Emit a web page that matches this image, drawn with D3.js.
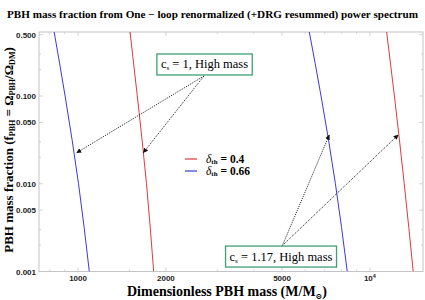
<!DOCTYPE html>
<html>
<head>
<meta charset="utf-8">
<script src="https://cdn.jsdelivr.net/npm/d3@7"></script>
<style>
  body { margin: 0; background: #fff; }
  svg { display: block; }
  .serif { font-family: "Liberation Serif", "DejaVu Serif", serif; font-weight: bold; }
  .tick-label { font-family: "Liberation Sans", Arial, sans-serif; font-weight: bold; font-size: 8px; fill: #222; }
</style>
</head>
<body>
<div id="chart"></div>
<script>
// axis ticks
var massTicks = [1000, 2000, 5000, 10000];
var massMinor = [800, 900, 1500, 3000, 4000, 6000, 7000, 8000, 9000];
var fracTicks = [0.5, 0.1, 0.05, 0.01, 0.005, 0.001];
var fracMinor = [0.3, 0.2, 0.03, 0.02, 0.003, 0.002];

// curves: mass read at each fraction level
var fracLevels = [0.54, 0.1, 0.01, 0.001];
var massBlueLow = [828, 903, 1004, 1093];
var massRedLow = [1507, 1596, 1716, 1816];
var massBlueHigh = [6196, 6800, 7617, 8362];
var massRedHigh = [11408, 12131, 13108, 14070];

var legendLabels = ["0.4", "0.66"];

// annotation anchors [mass, fraction]
var boxLowCenter = [2712, 0.2286];
var boxLowFrom = [2700, 0.169];
var boxLowTargets = [[990, 0.0226], [1674, 0.0226]];
var boxHighCenter = [4958, 0.00148];
var boxHighFrom = [5015, 0.00198];
var boxHighTargets = [[7255, 0.0359], [12500, 0.036]];

var width = 425, height = 300;
var red = "#e0393b", blue = "#3a3ad8", green = "#3f9f73";

var x = d3.scaleLog().domain([735, 15200]).range([39, 423]);
var y = d3.scaleLog().domain([0.001, 0.536]).range([271.5, 32]);

var svg = d3.select("#chart").append("svg")
    .attr("width", width)
    .attr("height", height);

svg.append("defs").append("clipPath")
    .attr("id", "clip")
  .append("rect")
    .attr("x", x.range()[0])
    .attr("y", y.range()[1])
    .attr("width", x.range()[1] - x.range()[0])
    .attr("height", y.range()[0] - y.range()[1]);

svg.select("defs").append("marker")
    .attr("id", "arrow")
    .attr("viewBox", "0 0 10 10")
    .attr("refX", 9)
    .attr("refY", 5)
    .attr("markerWidth", 5)
    .attr("markerHeight", 5)
    .attr("markerUnits", "userSpaceOnUse")
    .attr("orient", "auto")
  .append("path")
    .attr("d", "M0,0L10,5L0,10z")
    .attr("fill", "#111");

// title
svg.append("text")
    .attr("class", "serif")
    .attr("x", 7)
    .attr("y", 18)
    .attr("font-size", 10)
    .attr("textLength", 411)
    .attr("lengthAdjust", "spacingAndGlyphs")
    .text("PBH mass fraction from One \u2212 loop renormalized (+DRG resummed) power spectrum");

// frame with inward ticks on all sides
var frame = svg.append("g").attr("class", "frame");
var x0 = x.range()[0], x1 = x.range()[1], y0 = y.range()[0], y1 = y.range()[1];

frame.append("rect")
    .attr("x", x0).attr("y", y1)
    .attr("width", x1 - x0).attr("height", y0 - y1)
    .attr("fill", "none")
    .attr("stroke", "#c4c4c4")
    .attr("stroke-width", 1);

function xTicks(vals, len) {
  vals.forEach(function(v) {
    frame.append("line").attr("x1", x(v)).attr("x2", x(v)).attr("y1", y0).attr("y2", y0 - len);
    frame.append("line").attr("x1", x(v)).attr("x2", x(v)).attr("y1", y1).attr("y2", y1 + len);
  });
}
function yTicks(vals, len) {
  vals.forEach(function(v) {
    frame.append("line").attr("y1", y(v)).attr("y2", y(v)).attr("x1", x0).attr("x2", x0 + len);
    frame.append("line").attr("y1", y(v)).attr("y2", y(v)).attr("x1", x1).attr("x2", x1 - len);
  });
}
xTicks(massTicks, 4);
xTicks(massMinor, 2);
yTicks(fracTicks, 4);
yTicks(fracMinor, 2);
frame.selectAll("line").attr("stroke", "#c8c8c8").attr("stroke-width", 0.8);

// tick labels
var xLabels = svg.append("g");
massTicks.forEach(function(v) {
  var t = xLabels.append("text")
      .attr("class", "tick-label")
      .attr("x", x(v))
      .attr("y", 281)
      .attr("text-anchor", "middle");
  if (v === 10000) {
    t.append("tspan").text("10");
    t.append("tspan").attr("font-size", 5.5).attr("dy", -3.5).text("4");
  } else {
    t.text(v);
  }
});

svg.append("g").selectAll("text")
    .data(fracTicks)
  .enter().append("text")
    .attr("class", "tick-label")
    .attr("x", 36)
    .attr("y", function(d) { return y(d) + 3; })
    .attr("text-anchor", "end")
    .text(function(d) { return d3.format(".3f")(d); });

// axis titles
var xt = svg.append("text")
    .attr("class", "serif")
    .attr("x", 227)
    .attr("y", 296)
    .attr("font-size", 14)
    .attr("text-anchor", "middle");
xt.append("tspan").text("Dimensionless PBH mass (M/M");
xt.append("tspan").attr("font-size", 8).attr("dy", 2.5).text("\u2299");
xt.append("tspan").attr("dy", -2.5).text(")");

var yt = svg.append("text")
    .attr("class", "serif")
    .attr("transform", "translate(12.5,150) rotate(-90)")
    .attr("font-size", 13)
    .attr("text-anchor", "middle");
yt.append("tspan").text("PBH mass fraction (f");
yt.append("tspan").attr("font-size", 8).attr("dy", 2.5).text("PBH");
yt.append("tspan").attr("dy", -2.5).text(" = \u03A9");
yt.append("tspan").attr("font-size", 8).attr("dy", 2.5).text("PBH");
yt.append("tspan").attr("dy", -2.5).text("/\u03A9");
yt.append("tspan").attr("font-size", 8).attr("dy", 2.5).text("DM");
yt.append("tspan").attr("dy", -2.5).text(")");

// curves
var line = d3.line()
    .x(function(d) { return x(d[0]); })
    .y(function(d) { return y(d[1]); })
    .curve(d3.curveMonotoneY);

var curves = [
  { mass: massBlueLow, color: blue },
  { mass: massRedLow, color: red },
  { mass: massBlueHigh, color: blue },
  { mass: massRedHigh, color: red }
];

svg.append("g")
    .attr("clip-path", "url(#clip)")
  .selectAll("path")
    .data(curves)
  .enter().append("path")
    .attr("d", function(c) {
      return line(c.mass.map(function(m, i) { return [m, fracLevels[i]]; }));
    })
    .attr("fill", "none")
    .attr("stroke", function(c) { return c.color; })
    .attr("stroke-width", 1);

// legend
var legend = svg.append("g");
[red, blue].forEach(function(col, i) {
  var ly = 159 + i * 12;
  legend.append("line")
      .attr("x1", 185).attr("x2", 197)
      .attr("y1", ly).attr("y2", ly)
      .attr("stroke", col).attr("stroke-width", 1.2);
  var t = legend.append("text")
      .attr("class", "serif")
      .attr("x", 206)
      .attr("y", ly + 3.5)
      .attr("font-size", 11.5);
  t.append("tspan").attr("font-style", "italic").attr("font-weight", "normal").text("\u03B4");
  t.append("tspan").attr("font-size", 7).attr("dy", 1.5).text("th");
  t.append("tspan").attr("dy", -1.5).text(" = " + legendLabels[i]);
});

// annotations
function annotate(center, from, targets, value) {
  var g = svg.append("g");
  targets.forEach(function(tg) {
    g.append("line")
        .attr("x1", x(from[0])).attr("y1", y(from[1]))
        .attr("x2", x(tg[0])).attr("y2", y(tg[1]))
        .attr("stroke", "#111")
        .attr("stroke-width", 1)
        .attr("stroke-dasharray", "1,1.2")
        .attr("marker-end", "url(#arrow)");
  });
  var t = g.append("text")
      .attr("x", x(center[0]))
      .attr("y", y(center[1]) + 4)
      .attr("font-family", "Liberation Serif, DejaVu Serif, serif")
      .attr("font-size", 12.5)
      .attr("text-anchor", "middle");
  t.append("tspan").text("c");
  t.append("tspan").attr("font-size", 7).attr("dy", 2).text("s");
  t.append("tspan").attr("dy", -2).text(" = " + value + ",  High mass");
  var bb = t.node().getBBox();
  g.insert("rect", "text")
      .attr("x", bb.x - 4).attr("y", y(center[1]) - 10.5)
      .attr("width", bb.width + 8).attr("height", 21)
      .attr("fill", "#fff")
      .attr("stroke", green)
      .attr("stroke-width", 1.3);
}
annotate(boxLowCenter, boxLowFrom, boxLowTargets, "1");
annotate(boxHighCenter, boxHighFrom, boxHighTargets, "1.17");
</script>
</body>
</html>
